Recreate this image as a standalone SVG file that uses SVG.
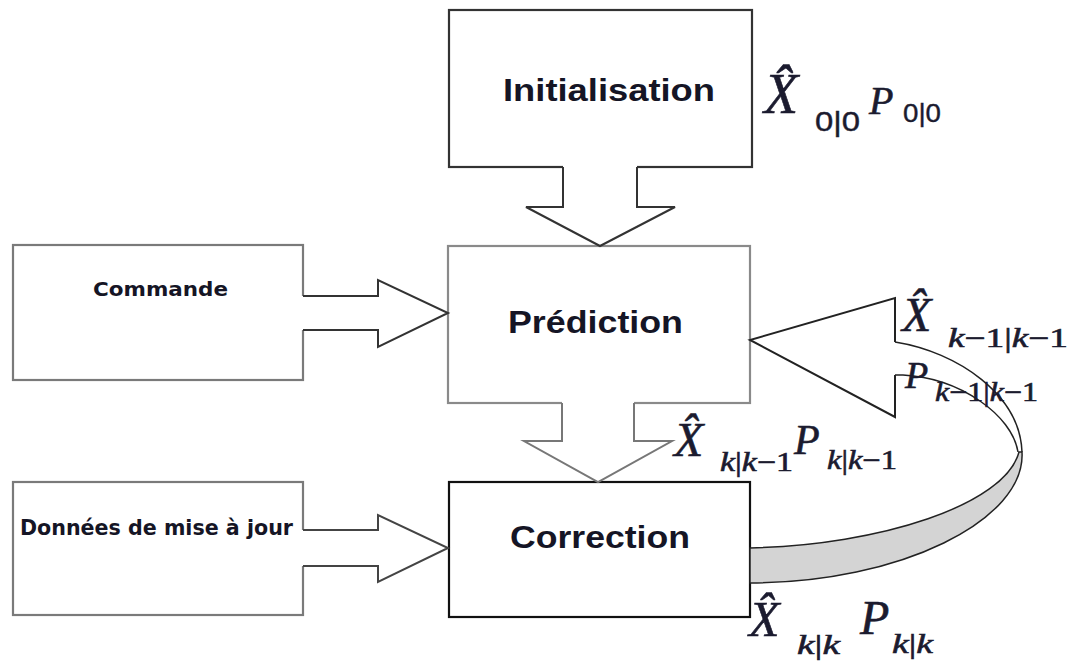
<svg xmlns="http://www.w3.org/2000/svg" width="1073" height="662" viewBox="0 0 1073 662">
<style>
.bx{fill:#fff;stroke-width:2.2}
.lbl{font-family:"Liberation Sans",Arial,sans-serif;font-weight:bold;fill:#151525}
.lbl2{font-family:"DejaVu Sans",Verdana,sans-serif;font-weight:bold;fill:#151525}
.m{font-family:"Liberation Serif","Times New Roman",serif;font-style:italic;fill:#1b1b2f;stroke:#1b1b2f;stroke-width:0.6}
.up{font-style:normal}
.sans{font-family:"Liberation Sans",Arial,sans-serif;font-style:normal;fill:#1b1b2f;stroke:#1b1b2f;stroke-width:0.4}
.af{fill:#fff;stroke:none}
.as{fill:none;stroke-width:2;stroke-linejoin:miter}
.crv{stroke:#222;stroke-width:1.5}
</style>

<g id="node-initialisation">
<rect class="bx" x="449" y="10" width="303" height="157" stroke="#333"/>
<text class="lbl" x="503" y="101" font-size="31" textLength="212" lengthAdjust="spacingAndGlyphs">Initialisation</text>
</g>

<g id="node-prediction">
<rect class="bx" x="448" y="246" width="302" height="157" stroke="#8a8a8a"/>
<text class="lbl" x="508" y="333" font-size="31" textLength="175" lengthAdjust="spacingAndGlyphs">Prédiction</text>
</g>

<g id="node-commande">
<rect class="bx" x="13" y="245" width="290" height="135" stroke="#7a7a7a" stroke-width="2.5"/>
<text class="lbl2" x="93" y="296" font-size="20" textLength="135" lengthAdjust="spacingAndGlyphs">Commande</text>
</g>

<g id="node-donnees">
<rect class="bx" x="13" y="482" width="290" height="133" stroke="#7a7a7a" stroke-width="2.5"/>
<text class="lbl2" x="20" y="535" font-size="21" textLength="273" lengthAdjust="spacingAndGlyphs">Données de mise à jour</text>
</g>

<g id="node-correction">
<rect class="bx" x="449" y="482" width="301" height="135" stroke="#111"/>
<text class="lbl" x="510" y="548" font-size="32" textLength="180" lengthAdjust="spacingAndGlyphs">Correction</text>
</g>

<g id="connectors">
<!-- Initialisation -> Prediction -->
<path class="af" d="M563,164 V207 H526 L600,246 L675,207 H637 V164 Z"/>
<path class="as" stroke="#333" d="M563,167 V207 H526 L600,246 L675,207 H637 V167"/>
<!-- Prediction -> Correction -->
<path class="af" d="M562,400 V441 H524 L598,482 L672,441 H634 V400 Z"/>
<path class="as" stroke="#777" d="M562,403 V441 H524 L598,482 L672,441 H634 V403"/>
<!-- Commande -> Prediction -->
<path class="af" d="M301,296 H378 V280 L448,313 L378,347 V330 H301 Z"/>
<path class="as" stroke="#333" d="M303,296 H378 V280 L448,313 L378,347 V330 H303"/>
<!-- Donnees -> Correction -->
<path class="af" d="M301,530 H378 V515 L448,548 L378,582 V566 H301 Z"/>
<path class="as" stroke="#444" d="M303,530 H378 V515 L448,548 L378,582 V566 H303"/>
<!-- Correction -> Prediction feedback curved arrow -->
<path fill="#fff" stroke="none" d="M895,342 C958,352 1020,395 1022,452 L1018,452 C1012,415 960,378 903,375 L895,375 Z"/>
<path class="crv" fill="none" d="M895,342 C958,352 1020,395 1022,452"/>
<path class="crv" fill="none" d="M895,375 H903 C960,378 1012,415 1018,452"/>
<path class="crv" fill="#d4d4d4" d="M750,548 C880,545 1005,505 1019,452 L1022,452 C1026,520 900,583 750,583 Z"/>
<path class="as" stroke="#222" d="M895,342 V298 L750,340 L895,417 V375"/>
</g>

<g id="label-x00">
<text class="m" x="764" y="113" font-size="56">X̂</text>
<text class="sans" x="815" y="131" font-size="27" textLength="45" lengthAdjust="spacingAndGlyphs">0|0</text>
</g>
<g id="label-p00">
<text class="m" x="869" y="114" font-size="40">P</text>
<text class="sans" x="903" y="122" font-size="26" textLength="38" lengthAdjust="spacingAndGlyphs">0|0</text>
</g>

<g id="label-xk1k1">
<text class="m" x="902" y="331" font-size="48">X̂</text>
<text class="m" x="948" y="347" font-size="27" textLength="120" lengthAdjust="spacingAndGlyphs">k<tspan class="up">−1|</tspan>k<tspan class="up">−1</tspan></text>
</g>
<g id="label-pk1k1">
<text class="m" x="905" y="388" font-size="38">P</text>
<text class="m" x="935" y="401" font-size="27" textLength="103" lengthAdjust="spacingAndGlyphs">k<tspan class="up">−1|</tspan>k<tspan class="up">−1</tspan></text>
</g>

<g id="label-xkk1">
<text class="m" x="674" y="456" font-size="48">X̂</text>
<text class="m" x="720" y="471" font-size="27" textLength="73" lengthAdjust="spacingAndGlyphs">k<tspan class="up">|</tspan>k<tspan class="up">−1</tspan></text>
</g>
<g id="label-pkk1">
<text class="m" x="794" y="454" font-size="42">P</text>
<text class="m" x="827" y="469" font-size="27" textLength="70" lengthAdjust="spacingAndGlyphs">k<tspan class="up">|</tspan>k<tspan class="up">−1</tspan></text>
</g>

<g id="label-xkk">
<text class="m" x="749" y="636" font-size="50">X̂</text>
<text class="m" x="797" y="654" font-size="27" textLength="43" lengthAdjust="spacingAndGlyphs">k<tspan class="up">|</tspan>k</text>
</g>
<g id="label-pkk">
<text class="m" x="860" y="634" font-size="48">P</text>
<text class="m" x="892" y="653" font-size="27" textLength="41" lengthAdjust="spacingAndGlyphs">k<tspan class="up">|</tspan>k</text>
</g>
</svg>
